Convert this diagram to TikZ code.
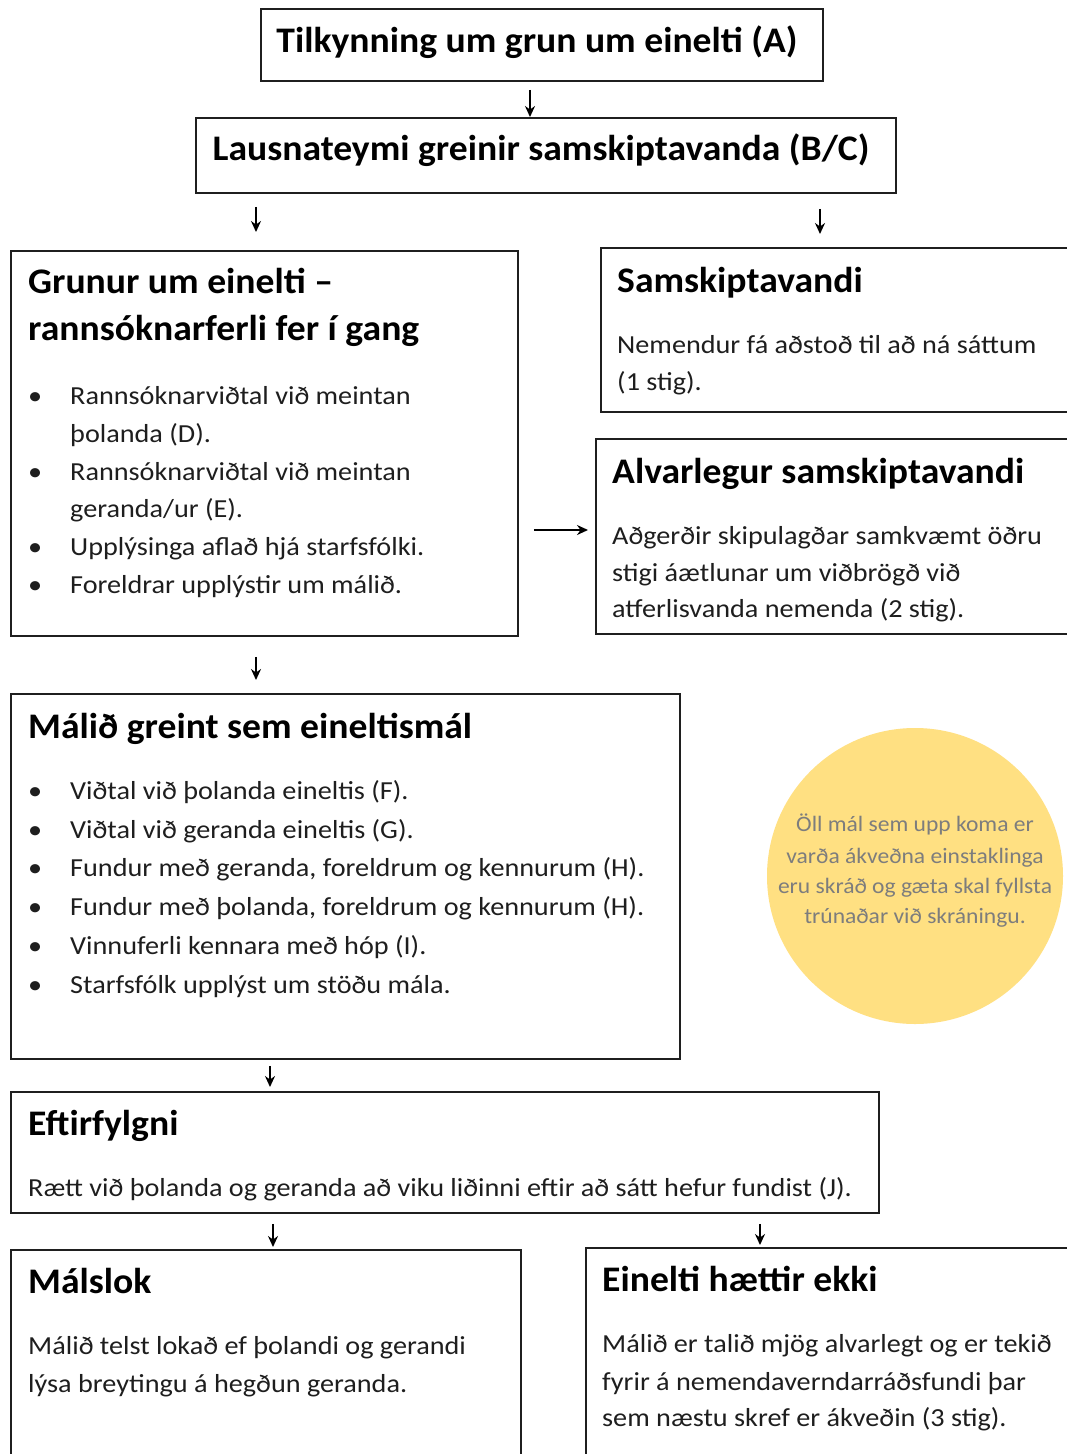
\documentclass[tikz,border=0pt]{standalone}
\usepackage{fontspec}
\setmainfont[FakeStretch=1.085]{Carlito}
\newfontfamily\ttlfont[FakeStretch=1.045]{Carlito}
\newfontfamily\circfont[FakeStretch=1.07]{Carlito}
\usetikzlibrary{arrows.meta}
\definecolor{circfill}{RGB}{255,224,130}
\definecolor{circtext}{RGB}{125,125,125}
\definecolor{bodytext}{RGB}{30,30,30}
\begin{document}
\begin{tikzpicture}[x=1pt,y=-1pt,
 box/.style={draw=black!88, line width=1.8pt, rectangle, inner sep=0pt, anchor=north west},
 ttl/.style={anchor=base west, inner sep=0pt, font=\ttlfont\fontsize{36}{40}\selectfont\bfseries},
 txt/.style={anchor=base west, inner sep=0pt, font=\fontsize{26}{30}\selectfont, text=bodytext},
 btxt/.style={txt},
 ctxt/.style={anchor=base, inner sep=0pt, font=\circfont\fontsize{22}{26}\selectfont, text=circtext},
 arr/.style={line width=1.8pt, -{Stealth[length=11pt,width=10pt]}},
]
\useasboundingbox[fill=white] (0,0) rectangle (1067,1454);
\clip (0,0) rectangle (1067,1454);

% boxes
\node[box, minimum width=562pt, minimum height=72pt] (A) at (260,8) {};
\node[box, minimum width=700pt, minimum height=75pt] (B) at (195,117) {};
\node[box, minimum width=507pt, minimum height=385pt] (G) at (10,250) {};
\node[box, minimum width=500pt, minimum height=164pt] (S) at (600,247) {};
\node[box, minimum width=500pt, minimum height=195pt] (AS) at (595,438) {};
\node[box, minimum width=669pt, minimum height=365pt] (M) at (10,693) {};
\node[box, minimum width=868pt, minimum height=121pt] (E) at (10,1091) {};
\node[box, minimum width=510pt, minimum height=260pt] (L) at (10,1249) {};
\node[box, minimum width=520pt, minimum height=260pt] (H) at (585,1247) {};
\node[circle, fill=circfill, minimum size=296pt, inner sep=0pt] (C) at (915,876) {};

% titles
\node[ttl, anchor=base] (tA) at (537,52) {Tilkynning um grun um einelti (A)};
\node[ttl, anchor=base] (tB) at (541,160) {Lausnateymi greinir samskiptavanda (B/C)};
\node[ttl] (tG1) at (28,293) {Grunur um einelti –};
\node[ttl] (tG2) at (28,340) {rannsóknarferli fer í gang};
\node[ttl] (tS) at (617,292) {Samskiptavandi};
\node[ttl] (tAS) at (612,483) {Alvarlegur samskiptavandi};
\node[ttl] (tM) at (28,738) {Málið greint sem eineltismál};
\node[ttl] (tE) at (28,1135) {Eftirfylgni};
\node[ttl] (tL) at (28,1293) {Málslok};
\node[ttl] (tH) at (602,1291) {Einelti hættir ekki};

% Grunur bullets
\node[txt] (gb1) at (28,404) {•};
\node[txt] (g1) at (70,404) {Rannsóknarviðtal við meintan};
\node[txt] (g1b) at (70,442) {þolanda (D).};
\node[txt] (gb2) at (28,480) {•};
\node[txt] (g2) at (70,480) {Rannsóknarviðtal við meintan};
\node[txt] (g2b) at (70,517) {geranda/ur (E).};
\node[txt] (gb3) at (28,555) {•};
\node[txt] (g3) at (70,555) {Upplýsinga aflað hjá starfsfólki.};
\node[txt] (gb4) at (28,593) {•};
\node[txt] (g4) at (70,593) {Foreldrar upplýstir um málið.};

% Samskiptavandi
\node[txt] (s1) at (617,353) {Nemendur fá aðstoð til að ná sáttum};
\node[txt] (s2) at (617,390) {(1 stig).};

% Alvarlegur
\node[txt] (as1) at (612,544) {Aðgerðir skipulagðar samkvæmt öðru};
\node[txt] (as2) at (612,581) {stigi áætlunar um viðbrögð við};
\node[txt] (as3) at (612,617) {atferlisvanda nemenda (2 stig).};

% Málið bullets
\node[txt] (mb1) at (28,799) {•};
\node[txt] (m1) at (70,799) {Viðtal við þolanda eineltis (F).};
\node[txt] (mb2) at (28,838) {•};
\node[txt] (m2) at (70,838) {Viðtal við geranda eineltis (G).};
\node[txt] (mb3) at (28,876) {•};
\node[txt] (m3) at (70,876) {Fundur með geranda, foreldrum og kennurum (H).};
\node[txt] (mb4) at (28,915) {•};
\node[txt] (m4) at (70,915) {Fundur með þolanda, foreldrum og kennurum (H).};
\node[txt] (mb5) at (28,954) {•};
\node[txt] (m5) at (70,954) {Vinnuferli kennara með hóp (I).};
\node[txt] (mb6) at (28,993) {•};
\node[txt] (m6) at (70,993) {Starfsfólk upplýst um stöðu mála.};

% circle text
\node[ctxt] (c1) at (915,831) {Öll mál sem upp koma er};
\node[ctxt] (c2) at (915,863) {varða ákveðna einstaklinga};
\node[ctxt] (c3) at (915,893) {eru skráð og gæta skal fyllsta};
\node[ctxt] (c4) at (915,923) {trúnaðar við skráningu.};

% Eftirfylgni
\node[btxt] (e1) at (28,1196) {Rætt við þolanda og geranda að viku liðinni eftir að sátt hefur fundist (J).};

% Málslok
\node[btxt] (l1) at (28,1354) {Málið telst lokað ef þolandi og gerandi};
\node[btxt] (l2) at (28,1392) {lýsa breytingu á hegðun geranda.};

% Einelti hættir ekki
\node[btxt] (h1) at (602,1352) {Málið er talið mjög alvarlegt og er tekið};
\node[btxt] (h2) at (602,1390) {fyrir á nemendaverndarráðsfundi þar};
\node[btxt] (h3) at (602,1426) {sem næstu skref er ákveðin (3 stig).};

% arrow anchors
\coordinate (x530) at (530,0);
\coordinate (x256) at (256,0);
\coordinate (x820) at (820,0);
\coordinate (x270) at (270,0);
\coordinate (x273) at (273,0);
\coordinate (x760) at (760,0);
\coordinate (y530) at (0,530);

\draw[arr, shorten <=8pt] (A.south -| x530) -- (B.north -| x530);
\draw[arr, shorten <=13pt, shorten >=18pt] (B.south -| x256) -- (G.north -| x256);
\draw[arr, shorten <=15pt, shorten >=13pt] (B.south -| x820) -- (S.north -| x820);
\draw[arr, shorten <=15pt, shorten >=7pt] (G.east |- y530) -- (AS.west |- y530);
\draw[arr, shorten <=20pt, shorten >=13pt] (G.south -| x256) -- (M.north -| x256);
\draw[arr, shorten <=6pt, shorten >=4pt] (M.south -| x270) -- (E.north -| x270);
\draw[arr, shorten <=10pt, shorten >=2pt] (E.south -| x273) -- (L.north -| x273);
\draw[arr, shorten <=10pt, shorten >=2pt] (E.south -| x760) -- (H.north -| x760);
\end{tikzpicture}
\end{document}
